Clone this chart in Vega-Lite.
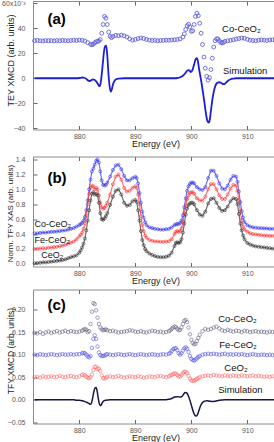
{
"$schema":"https://vega.github.io/schema/vega-lite/v6.json",
"padding":{"left":1,"top":-1,"right":0,"bottom":0},
"config":{"font":"Liberation Sans","view":{"stroke":null},
"axis":{"grid":false,"labelFont":"Liberation Sans","labelFontSize":7,"labelColor":"#555","tickColor":"#666","tickSize":-4,"domainColor":"#8a8a8a","domainWidth":1,"titleFont":"Liberation Sans","titleFontWeight":"normal","titleColor":"#222","labelPadding":6.5,"titlePadding":0.5},
"axisY":{"labelPadding":12}},
"datasets":{
"aco":[{"e":872,"v":30},{"e":872.5,"v":30.3},{"e":873,"v":30},{"e":873.5,"v":29.8},{"e":874,"v":30.2},{"e":874.5,"v":30},{"e":875,"v":30.1},{"e":875.5,"v":29.9},{"e":876,"v":30.2},{"e":876.5,"v":30},{"e":877,"v":30.3},{"e":877.5,"v":30.1},{"e":878,"v":30},{"e":878.5,"v":30.2},{"e":879,"v":30.4},{"e":879.5,"v":30.2},{"e":880,"v":30.5},{"e":880.5,"v":30.3},{"e":881,"v":29.8},{"e":881.5,"v":28.5},{"e":882,"v":27.2},{"e":882.25,"v":26.8},{"e":882.5,"v":27.3},{"e":882.75,"v":28.3},{"e":883,"v":29.2},{"e":883.25,"v":29.6},{"e":883.5,"v":29.8},{"e":883.75,"v":31},{"e":884,"v":36},{"e":884.25,"v":43},{"e":884.5,"v":49.5},{"e":884.75,"v":48},{"e":885,"v":43},{"e":885.25,"v":37},{"e":885.5,"v":33.5},{"e":885.75,"v":32.5},{"e":886,"v":33.5},{"e":886.5,"v":34.3},{"e":887,"v":34},{"e":887.5,"v":34.5},{"e":888,"v":34},{"e":888.5,"v":33},{"e":889,"v":31.5},{"e":889.5,"v":30.5},{"e":890,"v":31},{"e":890.5,"v":31.8},{"e":891,"v":32.2},{"e":891.5,"v":31.8},{"e":892,"v":31},{"e":892.5,"v":30.5},{"e":893,"v":30.2},{"e":893.5,"v":30.3},{"e":894,"v":30},{"e":894.5,"v":30.2},{"e":895,"v":30.3},{"e":895.5,"v":30.5},{"e":896,"v":30.4},{"e":896.5,"v":30.6},{"e":897,"v":30.8},{"e":897.5,"v":31},{"e":898,"v":31.5},{"e":898.5,"v":33},{"e":898.75,"v":35.5},{"e":899,"v":39},{"e":899.25,"v":42},{"e":899.5,"v":43.2},{"e":899.75,"v":41},{"e":900,"v":37.5},{"e":900.25,"v":38},{"e":900.5,"v":43},{"e":900.75,"v":49.5},{"e":901,"v":52},{"e":901.25,"v":50},{"e":901.5,"v":44},{"e":901.75,"v":36},{"e":902,"v":27},{"e":902.25,"v":17},{"e":902.5,"v":8},{"e":902.75,"v":1.5},{"e":903,"v":-1.5},{"e":903.25,"v":0.5},{"e":903.5,"v":7},{"e":903.75,"v":16},{"e":904,"v":25},{"e":904.25,"v":30},{"e":904.5,"v":31.5},{"e":904.75,"v":31.5},{"e":905,"v":30},{"e":905.25,"v":28.7},{"e":905.5,"v":28.2},{"e":905.75,"v":28.6},{"e":906,"v":29.5},{"e":906.5,"v":30},{"e":907,"v":30.3},{"e":907.5,"v":30.8},{"e":908,"v":31.3},{"e":908.5,"v":31.8},{"e":909,"v":32.2},{"e":909.5,"v":32},{"e":910,"v":31.2},{"e":910.5,"v":30.5},{"e":911,"v":30.2},{"e":911.5,"v":30},{"e":912,"v":30.4},{"e":912.5,"v":30.7},{"e":913,"v":30.5},{"e":913.5,"v":30.2},{"e":914,"v":30.6},{"e":914.5,"v":30.8},{"e":915,"v":30.6},{"e":915.4,"v":30.5}],
"asim":[{"e":872,"v":0},{"e":878,"v":0},{"e":879.5,"v":0},{"e":880,"v":0.2},{"e":880.5,"v":0.6},{"e":881,"v":0.2},{"e":881.5,"v":-1.5},{"e":881.8,"v":-2.2},{"e":882.1,"v":-1.7},{"e":882.4,"v":-1.0},{"e":882.7,"v":-1.2},{"e":883,"v":-2.5},{"e":883.3,"v":-4.5},{"e":883.6,"v":-6.3},{"e":883.8,"v":-4},{"e":884,"v":3},{"e":884.2,"v":12},{"e":884.4,"v":21},{"e":884.6,"v":25.5},{"e":884.8,"v":26},{"e":885,"v":18},{"e":885.2,"v":4},{"e":885.4,"v":-6},{"e":885.6,"v":-10.8},{"e":885.8,"v":-9},{"e":886,"v":-5},{"e":886.3,"v":-2},{"e":886.6,"v":-0.8},{"e":887,"v":-0.3},{"e":888,"v":0},{"e":897,"v":0},{"e":897.5,"v":0.2},{"e":898,"v":0.8},{"e":898.5,"v":2},{"e":899,"v":4.5},{"e":899.3,"v":6.2},{"e":899.6,"v":6.5},{"e":899.9,"v":5},{"e":900.2,"v":6.5},{"e":900.5,"v":11},{"e":900.8,"v":15.5},{"e":901,"v":16},{"e":901.2,"v":13},{"e":901.4,"v":7},{"e":901.6,"v":2},{"e":901.8,"v":-3},{"e":902,"v":-9},{"e":902.3,"v":-18},{"e":902.6,"v":-28},{"e":902.9,"v":-34.5},{"e":903.1,"v":-35.5},{"e":903.3,"v":-33},{"e":903.5,"v":-26},{"e":903.8,"v":-16},{"e":904.1,"v":-9},{"e":904.4,"v":-5},{"e":904.7,"v":-3.5},{"e":905,"v":-3.2},{"e":905.3,"v":-3.7},{"e":905.6,"v":-4.6},{"e":905.9,"v":-4.7},{"e":906.2,"v":-3.5},{"e":906.6,"v":-1.8},{"e":907,"v":-0.8},{"e":907.5,"v":-0.3},{"e":908,"v":0},{"e":915.4,"v":0}],
"b":[{"e":872,"co":0.41,"fe":0.20,"ce":0.01},{"e":872.5,"co":0.41,"fe":0.20,"ce":0.01},{"e":873,"co":0.415,"fe":0.205,"ce":0.015},{"e":873.5,"co":0.42,"fe":0.21,"ce":0.02},{"e":874,"co":0.42,"fe":0.21,"ce":0.02},{"e":874.5,"co":0.425,"fe":0.215,"ce":0.025},{"e":875,"co":0.43,"fe":0.22,"ce":0.03},{"e":875.5,"co":0.43,"fe":0.225,"ce":0.035},{"e":876,"co":0.435,"fe":0.23,"ce":0.04},{"e":876.5,"co":0.44,"fe":0.235,"ce":0.045},{"e":877,"co":0.445,"fe":0.245,"ce":0.05},{"e":877.5,"co":0.45,"fe":0.255,"ce":0.06},{"e":878,"co":0.46,"fe":0.27,"ce":0.075},{"e":878.5,"co":0.47,"fe":0.285,"ce":0.09},{"e":879,"co":0.48,"fe":0.30,"ce":0.10},{"e":879.5,"co":0.50,"fe":0.33,"ce":0.115},{"e":880,"co":0.52,"fe":0.37,"ce":0.15},{"e":880.25,"co":0.535,"fe":0.39,"ce":0.18},{"e":880.5,"co":0.55,"fe":0.42,"ce":0.22},{"e":880.75,"co":0.58,"fe":0.47,"ce":0.27},{"e":881,"co":0.63,"fe":0.54,"ce":0.34},{"e":881.25,"co":0.72,"fe":0.65,"ce":0.45},{"e":881.5,"co":0.85,"fe":0.80,"ce":0.58},{"e":881.75,"co":1.0,"fe":0.94,"ce":0.72},{"e":882,"co":1.13,"fe":1.02,"ce":0.85},{"e":882.25,"co":1.24,"fe":1.05,"ce":0.94},{"e":882.5,"co":1.28,"fe":1.04,"ce":0.96},{"e":882.75,"co":1.33,"fe":1.0,"ce":0.93},{"e":883,"co":1.38,"fe":1.02,"ce":0.94},{"e":883.25,"co":1.40,"fe":1.0,"ce":0.92},{"e":883.5,"co":1.36,"fe":0.92,"ce":0.82},{"e":883.75,"co":1.24,"fe":0.82,"ce":0.68},{"e":884,"co":1.12,"fe":0.76,"ce":0.60},{"e":884.25,"co":1.06,"fe":0.74,"ce":0.59},{"e":884.5,"co":1.05,"fe":0.75,"ce":0.61},{"e":884.75,"co":1.06,"fe":0.78,"ce":0.64},{"e":885,"co":1.09,"fe":0.82,"ce":0.68},{"e":885.5,"co":1.17,"fe":0.93,"ce":0.79},{"e":886,"co":1.26,"fe":1.07,"ce":0.90},{"e":886.5,"co":1.32,"fe":1.17,"ce":0.98},{"e":887,"co":1.33,"fe":1.20,"ce":1.00},{"e":887.5,"co":1.27,"fe":1.13,"ce":0.93},{"e":888,"co":1.18,"fe":1.02,"ce":0.82},{"e":888.5,"co":1.12,"fe":0.97,"ce":0.78},{"e":889,"co":1.12,"fe":0.98,"ce":0.79},{"e":889.5,"co":1.15,"fe":1.02,"ce":0.84},{"e":890,"co":1.17,"fe":1.04,"ce":0.86},{"e":890.25,"co":1.15,"fe":1.02,"ce":0.83},{"e":890.5,"co":1.08,"fe":0.93,"ce":0.72},{"e":890.75,"co":0.95,"fe":0.80,"ce":0.58},{"e":891,"co":0.82,"fe":0.64,"ce":0.44},{"e":891.25,"co":0.70,"fe":0.52,"ce":0.32},{"e":891.5,"co":0.62,"fe":0.44,"ce":0.25},{"e":891.75,"co":0.56,"fe":0.38,"ce":0.20},{"e":892,"co":0.52,"fe":0.35,"ce":0.17},{"e":892.5,"co":0.49,"fe":0.32,"ce":0.14},{"e":893,"co":0.48,"fe":0.31,"ce":0.12},{"e":893.5,"co":0.47,"fe":0.30,"ce":0.105},{"e":894,"co":0.465,"fe":0.30,"ce":0.095},{"e":894.5,"co":0.46,"fe":0.295,"ce":0.09},{"e":895,"co":0.46,"fe":0.295,"ce":0.09},{"e":895.5,"co":0.465,"fe":0.30,"ce":0.095},{"e":896,"co":0.47,"fe":0.305,"ce":0.11},{"e":896.5,"co":0.49,"fe":0.33,"ce":0.15},{"e":897,"co":0.52,"fe":0.40,"ce":0.24},{"e":897.25,"co":0.53,"fe":0.43,"ce":0.28},{"e":897.5,"co":0.535,"fe":0.44,"ce":0.29},{"e":897.75,"co":0.535,"fe":0.43,"ce":0.28},{"e":898,"co":0.55,"fe":0.44,"ce":0.29},{"e":898.25,"co":0.58,"fe":0.48,"ce":0.33},{"e":898.5,"co":0.65,"fe":0.56,"ce":0.42},{"e":898.75,"co":0.76,"fe":0.68,"ce":0.54},{"e":899,"co":0.88,"fe":0.79,"ce":0.66},{"e":899.25,"co":0.98,"fe":0.87,"ce":0.74},{"e":899.5,"co":1.04,"fe":0.92,"ce":0.79},{"e":899.75,"co":1.07,"fe":0.95,"ce":0.81},{"e":900,"co":1.09,"fe":0.96,"ce":0.82},{"e":900.25,"co":1.09,"fe":0.96,"ce":0.82},{"e":900.5,"co":1.08,"fe":0.94,"ce":0.80},{"e":901,"co":1.03,"fe":0.88,"ce":0.72},{"e":901.5,"co":1.00,"fe":0.85,"ce":0.66},{"e":902,"co":0.99,"fe":0.85,"ce":0.645},{"e":902.5,"co":1.03,"fe":0.90,"ce":0.70},{"e":903,"co":1.15,"fe":1.00,"ce":0.81},{"e":903.5,"co":1.25,"fe":1.07,"ce":0.87},{"e":904,"co":1.25,"fe":1.07,"ce":0.88},{"e":904.5,"co":1.18,"fe":1.00,"ce":0.82},{"e":905,"co":1.08,"fe":0.92,"ce":0.75},{"e":905.5,"co":1.01,"fe":0.87,"ce":0.71},{"e":906,"co":1.00,"fe":0.87,"ce":0.72},{"e":906.5,"co":1.05,"fe":0.93,"ce":0.77},{"e":907,"co":1.13,"fe":1.01,"ce":0.84},{"e":907.5,"co":1.18,"fe":1.06,"ce":0.88},{"e":908,"co":1.17,"fe":1.05,"ce":0.87},{"e":908.25,"co":1.10,"fe":0.98,"ce":0.80},{"e":908.5,"co":0.97,"fe":0.85,"ce":0.67},{"e":908.75,"co":0.83,"fe":0.70,"ce":0.54},{"e":909,"co":0.71,"fe":0.58,"ce":0.45},{"e":909.25,"co":0.62,"fe":0.50,"ce":0.38},{"e":909.5,"co":0.56,"fe":0.46,"ce":0.33},{"e":910,"co":0.52,"fe":0.43,"ce":0.28},{"e":910.5,"co":0.50,"fe":0.41,"ce":0.26},{"e":911,"co":0.49,"fe":0.40,"ce":0.245},{"e":911.5,"co":0.485,"fe":0.395,"ce":0.235},{"e":912,"co":0.48,"fe":0.39,"ce":0.23},{"e":912.5,"co":0.48,"fe":0.385,"ce":0.225},{"e":913,"co":0.475,"fe":0.38,"ce":0.22},{"e":913.5,"co":0.475,"fe":0.38,"ce":0.215},{"e":914,"co":0.47,"fe":0.375,"ce":0.21},{"e":914.5,"co":0.47,"fe":0.375,"ce":0.205},{"e":915,"co":0.47,"fe":0.375,"ce":0.20},{"e":915.4,"co":0.47,"fe":0.375,"ce":0.20}],
"c":[{"e":872,"co":0.148,"fe":0.100,"ce":0.050},{"e":872.5,"co":0.147,"fe":0.099,"ce":0.051},{"e":873,"co":0.150,"fe":0.101,"ce":0.049},{"e":873.5,"co":0.146,"fe":0.100,"ce":0.052},{"e":874,"co":0.149,"fe":0.099,"ce":0.050},{"e":874.5,"co":0.151,"fe":0.100,"ce":0.051},{"e":875,"co":0.148,"fe":0.101,"ce":0.052},{"e":875.5,"co":0.150,"fe":0.100,"ce":0.050},{"e":876,"co":0.152,"fe":0.099,"ce":0.051},{"e":876.5,"co":0.149,"fe":0.100,"ce":0.053},{"e":877,"co":0.151,"fe":0.101,"ce":0.051},{"e":877.5,"co":0.153,"fe":0.100,"ce":0.050},{"e":878,"co":0.150,"fe":0.100,"ce":0.052},{"e":878.5,"co":0.152,"fe":0.101,"ce":0.053},{"e":879,"co":0.151,"fe":0.100,"ce":0.051},{"e":879.5,"co":0.150,"fe":0.101,"ce":0.050},{"e":880,"co":0.151,"fe":0.101,"ce":0.052},{"e":880.5,"co":0.153,"fe":0.103,"ce":0.055},{"e":880.75,"co":0.155,"fe":0.104,"ce":0.056},{"e":881,"co":0.157,"fe":0.103,"ce":0.054},{"e":881.25,"co":0.155,"fe":0.100,"ce":0.051},{"e":881.5,"co":0.150,"fe":0.096,"ce":0.049},{"e":881.75,"co":0.152,"fe":0.094,"ce":0.048},{"e":882,"co":0.168,"fe":0.097,"ce":0.050},{"e":882.25,"co":0.195,"fe":0.115,"ce":0.056},{"e":882.5,"co":0.214,"fe":0.135,"ce":0.066},{"e":882.75,"co":0.212,"fe":0.143,"ce":0.073},{"e":883,"co":0.198,"fe":0.135,"ce":0.073},{"e":883.25,"co":0.182,"fe":0.118,"ce":0.068},{"e":883.5,"co":0.168,"fe":0.105,"ce":0.069},{"e":883.75,"co":0.160,"fe":0.099,"ce":0.064},{"e":884,"co":0.156,"fe":0.097,"ce":0.054},{"e":884.25,"co":0.154,"fe":0.097,"ce":0.048},{"e":884.5,"co":0.155,"fe":0.098,"ce":0.047},{"e":884.75,"co":0.156,"fe":0.100,"ce":0.049},{"e":885,"co":0.154,"fe":0.101,"ce":0.051},{"e":885.5,"co":0.152,"fe":0.100,"ce":0.052},{"e":886,"co":0.153,"fe":0.099,"ce":0.050},{"e":886.5,"co":0.151,"fe":0.100,"ce":0.051},{"e":887,"co":0.149,"fe":0.101,"ce":0.053},{"e":887.5,"co":0.150,"fe":0.100,"ce":0.051},{"e":888,"co":0.151,"fe":0.099,"ce":0.049},{"e":888.5,"co":0.152,"fe":0.100,"ce":0.050},{"e":889,"co":0.154,"fe":0.101,"ce":0.052},{"e":889.5,"co":0.153,"fe":0.100,"ce":0.051},{"e":890,"co":0.151,"fe":0.099,"ce":0.050},{"e":890.5,"co":0.150,"fe":0.100,"ce":0.052},{"e":891,"co":0.152,"fe":0.101,"ce":0.051},{"e":891.5,"co":0.150,"fe":0.100,"ce":0.049},{"e":892,"co":0.149,"fe":0.099,"ce":0.050},{"e":892.5,"co":0.151,"fe":0.100,"ce":0.052},{"e":893,"co":0.153,"fe":0.101,"ce":0.051},{"e":893.5,"co":0.152,"fe":0.100,"ce":0.050},{"e":894,"co":0.150,"fe":0.099,"ce":0.052},{"e":894.5,"co":0.151,"fe":0.100,"ce":0.053},{"e":895,"co":0.149,"fe":0.101,"ce":0.051},{"e":895.5,"co":0.150,"fe":0.100,"ce":0.050},{"e":896,"co":0.152,"fe":0.102,"ce":0.052},{"e":896.25,"co":0.154,"fe":0.104,"ce":0.054},{"e":896.5,"co":0.157,"fe":0.108,"ce":0.055},{"e":896.75,"co":0.160,"fe":0.112,"ce":0.057},{"e":897,"co":0.162,"fe":0.114,"ce":0.058},{"e":897.25,"co":0.161,"fe":0.114,"ce":0.058},{"e":897.5,"co":0.157,"fe":0.110,"ce":0.055},{"e":897.75,"co":0.154,"fe":0.103,"ce":0.052},{"e":898,"co":0.155,"fe":0.100,"ce":0.052},{"e":898.25,"co":0.160,"fe":0.103,"ce":0.055},{"e":898.5,"co":0.168,"fe":0.109,"ce":0.059},{"e":898.75,"co":0.175,"fe":0.114,"ce":0.062},{"e":899,"co":0.177,"fe":0.116,"ce":0.062},{"e":899.25,"co":0.172,"fe":0.113,"ce":0.059},{"e":899.5,"co":0.160,"fe":0.106,"ce":0.053},{"e":899.75,"co":0.145,"fe":0.097,"ce":0.047},{"e":900,"co":0.133,"fe":0.091,"ce":0.043},{"e":900.25,"co":0.126,"fe":0.088,"ce":0.042},{"e":900.5,"co":0.123,"fe":0.087,"ce":0.042},{"e":900.75,"co":0.124,"fe":0.089,"ce":0.044},{"e":901,"co":0.130,"fe":0.092,"ce":0.046},{"e":901.25,"co":0.137,"fe":0.095,"ce":0.048},{"e":901.5,"co":0.144,"fe":0.097,"ce":0.050},{"e":902,"co":0.152,"fe":0.100,"ce":0.052},{"e":902.5,"co":0.157,"fe":0.101,"ce":0.053},{"e":903,"co":0.155,"fe":0.102,"ce":0.054},{"e":903.5,"co":0.157,"fe":0.101,"ce":0.053},{"e":904,"co":0.160,"fe":0.102,"ce":0.055},{"e":904.5,"co":0.162,"fe":0.101,"ce":0.054},{"e":905,"co":0.158,"fe":0.100,"ce":0.053},{"e":905.5,"co":0.154,"fe":0.101,"ce":0.052},{"e":906,"co":0.152,"fe":0.102,"ce":0.054},{"e":906.5,"co":0.155,"fe":0.100,"ce":0.053},{"e":907,"co":0.153,"fe":0.101,"ce":0.052},{"e":907.5,"co":0.151,"fe":0.100,"ce":0.054},{"e":908,"co":0.153,"fe":0.101,"ce":0.053},{"e":908.5,"co":0.152,"fe":0.100,"ce":0.052},{"e":909,"co":0.150,"fe":0.101,"ce":0.054},{"e":909.5,"co":0.153,"fe":0.100,"ce":0.053},{"e":910,"co":0.152,"fe":0.099,"ce":0.052},{"e":910.5,"co":0.150,"fe":0.100,"ce":0.053},{"e":911,"co":0.151,"fe":0.101,"ce":0.054},{"e":911.5,"co":0.152,"fe":0.100,"ce":0.052},{"e":912,"co":0.150,"fe":0.099,"ce":0.053},{"e":912.5,"co":0.151,"fe":0.100,"ce":0.052},{"e":913,"co":0.150,"fe":0.100,"ce":0.051},{"e":913.5,"co":0.149,"fe":0.099,"ce":0.052},{"e":914,"co":0.151,"fe":0.100,"ce":0.051},{"e":914.5,"co":0.150,"fe":0.099,"ce":0.052},{"e":915,"co":0.149,"fe":0.100,"ce":0.051},{"e":915.4,"co":0.150,"fe":0.100,"ce":0.050}],
"csim":[{"e":872,"v":0},{"e":879,"v":0},{"e":879.5,"v":-0.001},{"e":880,"v":-0.001},{"e":880.5,"v":-0.002},{"e":881,"v":-0.004},{"e":881.4,"v":-0.006},{"e":881.7,"v":-0.008},{"e":882,"v":-0.010},{"e":882.2,"v":-0.006},{"e":882.4,"v":0.005},{"e":882.6,"v":0.018},{"e":882.8,"v":0.026},{"e":883.0,"v":0.027},{"e":883.2,"v":0.018},{"e":883.4,"v":0.002},{"e":883.6,"v":-0.010},{"e":883.8,"v":-0.013},{"e":884.0,"v":-0.009},{"e":884.3,"v":-0.003},{"e":884.7,"v":-0.001},{"e":885.5,"v":0},{"e":895.5,"v":0},{"e":896,"v":0.001},{"e":896.5,"v":0.003},{"e":897,"v":0.006},{"e":897.5,"v":0.007},{"e":898,"v":0.006},{"e":898.3,"v":0.007},{"e":898.6,"v":0.012},{"e":898.9,"v":0.016},{"e":899.2,"v":0.015},{"e":899.5,"v":0.008},{"e":899.8,"v":-0.003},{"e":900.1,"v":-0.016},{"e":900.4,"v":-0.028},{"e":900.7,"v":-0.035},{"e":900.9,"v":-0.036},{"e":901.1,"v":-0.033},{"e":901.4,"v":-0.022},{"e":901.7,"v":-0.012},{"e":902.0,"v":-0.006},{"e":902.4,"v":-0.003},{"e":902.8,"v":-0.002},{"e":903.3,"v":-0.003},{"e":903.8,"v":-0.004},{"e":904.3,"v":-0.003},{"e":905,"v":-0.001},{"e":906,"v":0},{"e":915.4,"v":0}]
},
"bounds":"flush",
"spacing":26.5,
"resolve":{"scale":{"x":"independent","y":"independent"}},
"vconcat":[
{"width":245,"height":128.5,
 "layer":[
  {"data":{"name":"aco"},"mark":{"type":"point","shape":"circle","filled":false,"size":15,"strokeWidth":0.9,"color":"#6262d8","opacity":1},
   "encoding":{"x":{"field":"e","type":"quantitative","scale":{"domain":[871.73,915.48],"nice":false,"zero":false},"axis":{"orient":"bottom","values":[880,890,900,910],"format":"d","title":"Energy (eV)","titleFontSize":9}},
    "y":{"field":"v","type":"quantitative","scale":{"domain":[-41,61.8],"nice":false,"zero":false},"axis":{"orient":"left","values":[-40,-20,0,20,40,60],"labelExpr":"datum.value == 60 ? '60x10⁻³' : datum.label","title":"TEY XMCD (arb. units)","titleFontSize":9,"titleX":-27,"titleY":59,"titleBaseline":"top","titleAngle":-90,"titleAlign":"center"}}}},
  {"data":{"name":"asim"},"mark":{"type":"line","strokeWidth":1.8,"color":"#1e1ed2","interpolate":"monotone"},
   "encoding":{"x":{"field":"e","type":"quantitative","axis":null},"y":{"field":"v","type":"quantitative","axis":null}}},
  {"data":{"values":[{"e":905.5,"v":39.2,"t":"Co-CeO₂"},{"e":905.66,"v":5.8,"t":"Simulation"}]},"mark":{"type":"text","align":"left","baseline":"middle","fontSize":9.5,"color":"#111"},
   "encoding":{"x":{"field":"e","type":"quantitative","axis":{"orient":"top","values":[880,890,900,910],"labels":false,"title":null}},"y":{"field":"v","type":"quantitative","axis":{"orient":"right","values":[-40,-20,0,20,40,60],"labels":false,"title":null}},"text":{"field":"t"}}},
  {"data":{"values":[{"e":874.3,"v":47.8,"t":"(a)"}]},"mark":{"type":"text","align":"left","baseline":"middle","fontSize":15,"fontWeight":"bold","color":"#000"},
   "encoding":{"x":{"field":"e","type":"quantitative","axis":null},"y":{"field":"v","type":"quantitative","axis":null},"text":{"field":"t"}}}
 ],
 "resolve":{"axis":{"x":"independent","y":"independent"}}},
{"bounds":"flush","spacing":23,"resolve":{"scale":{"x":"independent","y":"independent"}},
 "vconcat":[
 {"width":245,"height":110,
  "layer":[
   {"data":{"name":"b"},"mark":{"type":"line","strokeWidth":1.2,"color":"#3535ee","opacity":0.7},
    "encoding":{"x":{"field":"e","type":"quantitative","scale":{"domain":[871.73,915.48],"nice":false,"zero":false},"axis":{"orient":"bottom","values":[880,890,900,910],"format":"d","title":"Energy (eV)","titleFontSize":9}},
     "y":{"field":"co","type":"quantitative","scale":{"domain":[-0.035,1.44],"nice":false,"zero":false},"axis":{"orient":"left","values":[0,0.2,0.4,0.6,0.8,1.0,1.2,1.4],"format":".1f","title":"Norm. TFY XAS (arb. units)","titleFontSize":8,"titleX":-27,"titleY":56.5,"titleBaseline":"top","titleAngle":-90,"titleAlign":"center"}}}},
   {"data":{"name":"b"},"mark":{"type":"line","strokeWidth":1.2,"color":"#ff3535","opacity":0.7},
    "encoding":{"x":{"field":"e","type":"quantitative","axis":null},"y":{"field":"fe","type":"quantitative","axis":null}}},
   {"data":{"name":"b"},"mark":{"type":"line","strokeWidth":1.2,"color":"#303030","opacity":0.7},
    "encoding":{"x":{"field":"e","type":"quantitative","axis":null},"y":{"field":"ce","type":"quantitative","axis":null}}},
   {"data":{"name":"b"},"mark":{"type":"point","shape":"circle","filled":false,"size":9,"strokeWidth":0.9,"color":"#3535ee"},
    "encoding":{"x":{"field":"e","type":"quantitative","axis":null},"y":{"field":"co","type":"quantitative","axis":null}}},
   {"data":{"name":"b"},"mark":{"type":"point","shape":"circle","filled":false,"size":9,"strokeWidth":0.9,"color":"#ff3535"},
    "encoding":{"x":{"field":"e","type":"quantitative","axis":null},"y":{"field":"fe","type":"quantitative","axis":null}}},
   {"data":{"name":"b"},"mark":{"type":"point","shape":"circle","filled":false,"size":9,"strokeWidth":0.9,"color":"#303030"},
    "encoding":{"x":{"field":"e","type":"quantitative","axis":null},"y":{"field":"ce","type":"quantitative","axis":null}}},
   {"data":{"values":[{"e":872,"v":0.54,"t":"Co-CeO₂"},{"e":872,"v":0.32,"t":"Fe-CeO₂"},{"e":873.2,"v":0.12,"t":"CeO₂"}]},"mark":{"type":"text","align":"left","baseline":"middle","fontSize":9,"color":"#111"},
    "encoding":{"x":{"field":"e","type":"quantitative","axis":{"orient":"top","values":[880,890,900,910],"labels":false,"title":null}},"y":{"field":"v","type":"quantitative","axis":{"orient":"right","values":[0,0.2,0.4,0.6,0.8,1.0,1.2,1.4],"labels":false,"title":null}},"text":{"field":"t"}}},
   {"data":{"values":[{"e":874.3,"v":1.156,"t":"(b)"}]},"mark":{"type":"text","align":"left","baseline":"middle","fontSize":15,"fontWeight":"bold","color":"#000"},
    "encoding":{"x":{"field":"e","type":"quantitative","axis":null},"y":{"field":"v","type":"quantitative","axis":null},"text":{"field":"t"}}}
  ],
  "resolve":{"axis":{"x":"independent","y":"independent"}}},
 {"width":245,"height":134,
  "layer":[
   {"data":{"name":"c"},"mark":{"type":"point","shape":"circle","filled":false,"size":12,"strokeWidth":0.8,"color":"#55557a"},
    "encoding":{"x":{"field":"e","type":"quantitative","scale":{"domain":[871.73,915.48],"nice":false,"zero":false},"axis":{"orient":"bottom","values":[880,890,900,910],"format":"d","title":"Energy (eV)","titleFontSize":9}},
     "y":{"field":"co","type":"quantitative","scale":{"domain":[-0.0525,0.2443],"nice":false,"zero":false},"axis":{"orient":"left","values":[-0.05,0,0.05,0.1,0.15,0.2],"format":".2f","title":"TFY XMCD (arb. units)","titleFontSize":8.5,"titleX":-27,"titleY":61,"titleBaseline":"top","titleAngle":-90,"titleAlign":"center"}}}},
   {"data":{"name":"c"},"mark":{"type":"point","shape":"circle","filled":false,"size":12,"strokeWidth":0.8,"color":"#4040e0"},
    "encoding":{"x":{"field":"e","type":"quantitative","axis":null},"y":{"field":"fe","type":"quantitative","axis":null}}},
   {"data":{"name":"c"},"mark":{"type":"point","shape":"circle","filled":false,"size":12,"strokeWidth":0.8,"color":"#ff5a5a"},
    "encoding":{"x":{"field":"e","type":"quantitative","axis":null},"y":{"field":"ce","type":"quantitative","axis":null}}},
   {"data":{"name":"csim"},"mark":{"type":"line","strokeWidth":1.5,"color":"#16164a","interpolate":"monotone"},
    "encoding":{"x":{"field":"e","type":"quantitative","axis":null},"y":{"field":"v","type":"quantitative","axis":null}}},
   {"data":{"values":[{"e":904.8,"v":0.18,"t":"Co-CeO₂"},{"e":905.0,"v":0.122,"t":"Fe-CeO₂"},{"e":905.9,"v":0.071,"t":"CeO₂"},{"e":904.8,"v":0.022,"t":"Simulation"}]},"mark":{"type":"text","align":"left","baseline":"middle","fontSize":9.5,"color":"#111"},
    "encoding":{"x":{"field":"e","type":"quantitative","axis":{"orient":"top","values":[880,890,900,910],"labels":false,"title":null}},"y":{"field":"v","type":"quantitative","axis":{"orient":"right","values":[-0.05,0,0.05,0.1,0.15,0.2],"labels":false,"title":null}},"text":{"field":"t"}}},
   {"data":{"values":[{"e":874.3,"v":0.2106,"t":"(c)"}]},"mark":{"type":"text","align":"left","baseline":"middle","fontSize":15,"fontWeight":"bold","color":"#000"},
    "encoding":{"x":{"field":"e","type":"quantitative","axis":null},"y":{"field":"v","type":"quantitative","axis":null},"text":{"field":"t"}}}
  ],
  "resolve":{"axis":{"x":"independent","y":"independent"}}}
 ]}
]
}
